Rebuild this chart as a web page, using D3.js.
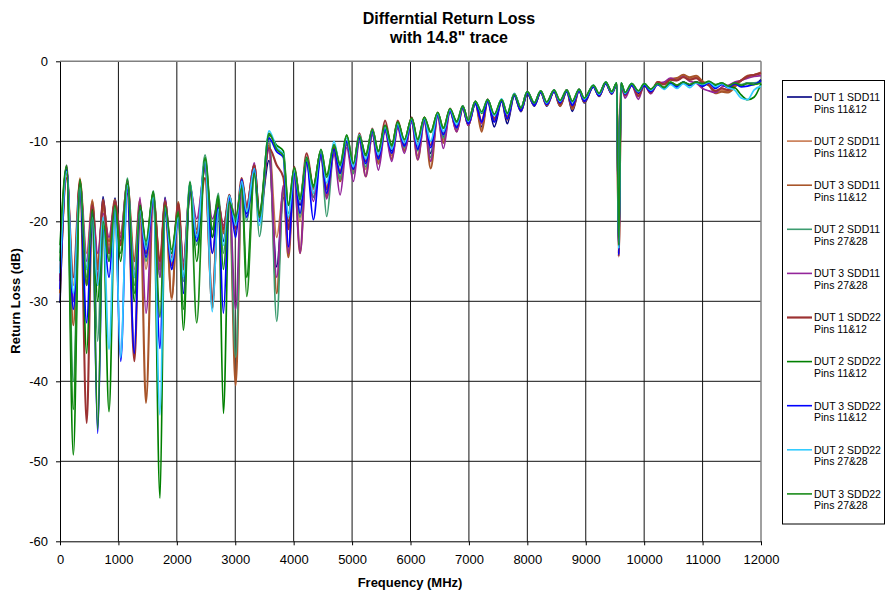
<!DOCTYPE html>
<html>
<head>
<meta charset="utf-8">
<script src="https://cdn.jsdelivr.net/npm/d3@7"></script>
<style>
  body { margin: 0; background: #fff; }
  svg { font-family: "Liberation Sans", Arial, sans-serif; }
</style>
</head>
<body>
<div id="chart"></div>
<script>

var width = 886, height = 592;

var xTicks = [0,1000,2000,3000,4000,5000,6000,7000,8000,9000,10000,11000,12000];
var yTicks = [0,-10,-20,-30,-40,-50,-60];

var seriesNames = ["DUT 1 SDD11","DUT 2 SDD11","DUT 3 SDD11","DUT 2 SDD11","DUT 3 SDD11",
                   "DUT 1 SDD22","DUT 2 SDD22","DUT 3 SDD22","DUT 2 SDD22","DUT 3 SDD22"];
var pinNames = ["Pins 11&12","Pins 11&12","Pins 11&12","Pins 27&28","Pins 27&28",
                "Pins 11&12","Pins 11&12","Pins 11&12","Pins 27&28","Pins 27&28"];
var colors = ["#000080","#c8784e","#a8552a","#3c9c70","#93259a",
              "#9c3232","#008000","#0000ff","#33ccff","#1a8c1a"];

// frequency (MHz) of each sample
var freq = [0,114,228,342,457,553,645,736,839,941,
  1039,1153,1273,1370,1472,1597,1712,1798,1912,2025,
  2111,2226,2340,2483,2608,2711,2797,2899,3007,3111,
  3196,3327,3413,3578,3710,3823,3910,4011,4109,4223,
  4337,4468,4565,4691,4794,4908,5022,5125,5234,5347,
  5450,5565,5679,5781,5895,6021,6124,6237,6346,6466,
  6562,6677,6791,6894,6990,7110,7219,7321,7434,7560,
  7657,7776,7891,7999,8119,8229,8332,8457,8560,8675,
  8771,8885,8976,9130,9228,9342,9445,9531,9565,9605,
  9673,9787,9901,10003,10112,10232,10340,10450,10560,10670,
  10780,10890,11000,11110,11220,11330,11440,11550,11660,11770,
  11880,12000];

var dut1Sdd11p12 = [-30.2,-13.5,-30,-15.2,-26,-17.8,-27,-16.9,-24,-17.1,
  -22.5,-15.5,-27,-17.8,-23.5,-16.5,-26,-17,-26,-18.5,
  -27,-16,-22,-13.3,-22,-18,-22.5,-16.7,-21,-15,
  -19,-13.5,-19.5,-12.4,-25.7,-17,-20,-14.3,-18,-12.6,
  -17,-11.8,-16,-11.5,-14,-10.4,-13.3,-9.8,-12.5,-9,
  -12,-8.6,-11.2,-8.2,-10.5,-7.6,-11,-7.5,-11.5,-6.8,
  -9.5,-6.3,-8.5,-5.9,-8,-5.3,-8.2,-5,-8.2,-5,
  -7.8,-4.3,-6.3,-4,-5.6,-3.9,-5.6,-3.8,-5.6,-3.8,
  -6.25,-3.7,-5.2,-3.2,-4.4,-2.8,-4.1,-2.9,-23.8,-2.9,
  -4.2,-3,-4,-3,-3.9,-2.9,-3.4,-2.8,-3.2,-2.6,
  -3,-2.6,-3.1,-2.7,-3.3,-2.9,-3.3,-2.7,-3.1,-2.7,
  -2.9,-2.3];

var dut2Sdd11p12 = [-26,-13.8,-28,-14.6,-24,-17.3,-25,-18.5,-23,-17.5,
  -21.5,-15,-26,-17.5,-26,-16.8,-25,-17.5,-29.8,-17.8,
  -26,-15.6,-21.5,-12.8,-24,-17.6,-21,-16.9,-20,-14.8,
  -18.5,-13.2,-19.8,-10.2,-22,-16.5,-20.5,-13.8,-20,-12,
  -16,-11.4,-16.5,-11,-14.5,-10,-13.8,-9.4,-13.5,-8.6,
  -12.5,-8,-11.8,-7.8,-11,-7.2,-11.8,-7.1,-12.5,-6.5,
  -9.8,-6,-8.6,-5.6,-8,-5,-8.5,-4.8,-7.4,-4.9,
  -7.2,-4.1,-6.1,-3.9,-5.4,-3.8,-5.5,-3.7,-5.5,-3.6,
  -5.8,-3.6,-5,-3.1,-4.3,-2.7,-4,-2.8,-23.5,-2.8,
  -4.2,-2.9,-4.3,-2.9,-3.9,-2.6,-2.8,-2.2,-2.3,-1.9,
  -2.2,-2,-2.6,-3,-3.8,-3.6,-3.8,-3.1,-2.4,-1.9,
  -1.7,-1.5];

var dut3Sdd11p12 = [-29,-14,-33,-14.8,-28,-17.5,-26,-18,-22.5,-17.3,
  -22,-15.3,-25,-17.3,-42.7,-16.8,-26,-17.8,-29.5,-17.6,
  -26,-15.8,-21,-13,-30.8,-17.5,-21.5,-17,-40.5,-15,
  -18.2,-13,-19.2,-10.5,-29,-16,-24.5,-13.6,-24,-12.2,
  -16.5,-11.5,-17,-11,-15,-10.2,-14,-9.5,-14.4,-8.8,
  -12.8,-8.2,-12.2,-7.8,-11.2,-7.3,-12.3,-7.2,-13.4,-6.6,
  -10.2,-6,-8.8,-5.7,-8,-5.1,-8.8,-4.8,-7.5,-4.9,
  -7.3,-4.1,-6.2,-3.9,-5.5,-3.8,-5.5,-3.7,-5.6,-3.6,
  -6,-3.6,-5.1,-3.1,-4.3,-2.7,-4,-2.8,-24,-2.9,
  -4.3,-2.9,-4.4,-2.9,-4,-2.6,-2.8,-2.2,-2.1,-1.7,
  -2,-1.8,-2.5,-3,-4,-3.8,-3.9,-3.2,-2.4,-1.8,
  -1.7,-1.4];

var dut2Sdd11p28 = [-24,-13.2,-40,-15,-27,-18.5,-35,-19.5,-25,-18.5,
  -23,-14.6,-28,-18,-25,-16.2,-27,-18,-25,-18.5,
  -27.5,-15,-23,-11.7,-21,-16.5,-24,-17.5,-37,-15.5,
  -20,-13.8,-21.9,-9.3,-32.5,-16,-19,-14,-19.5,-12.5,
  -17,-11.8,-19.4,-11.3,-14.8,-10.2,-14,-9.8,-13.2,-9,
  -12.3,-8.5,-11.5,-8.2,-10.8,-7.5,-11.2,-7.4,-12,-6.7,
  -9.6,-6.2,-8.4,-5.8,-7.8,-5.2,-7.5,-4.9,-7.1,-4.9,
  -6.9,-4.2,-6,-3.9,-5.3,-3.8,-5.3,-3.7,-5.1,-3.7,
  -5.4,-3.6,-4.8,-3,-4.1,-2.6,-3.9,-2.7,-23,-2.8,
  -4,-2.9,-3.8,-2.9,-3.6,-2.8,-3.3,-2.7,-3.1,-2.7,
  -2.9,-2.6,-2.8,-2.5,-3,-2.7,-3.1,-2.7,-2.9,-2.7,
  -2.7,-2.5];

var dut3Sdd11p28 = [-27,-13.0,-30,-15,-25,-18,-24,-19,-22,-17.5,
  -22,-15,-27,-17,-31.5,-17.5,-27,-17.2,-24.5,-18.2,
  -25,-15.8,-19.7,-13.5,-19.7,-17.8,-20.5,-17.2,-31,-15,
  -18,-12.7,-19,-11,-27,-15.5,-24,-14.5,-24,-12.8,
  -17.5,-12,-17.2,-11.6,-16.7,-10.8,-15,-10,-14.4,-9.2,
  -13.6,-8.8,-12.5,-8.4,-11.5,-7.6,-12.3,-7.6,-12.5,-6.9,
  -10.9,-6.3,-8.8,-5.9,-8,-5.2,-7.8,-4.9,-7.2,-5,
  -7,-4.2,-6.1,-4,-5.4,-3.9,-5.4,-3.8,-5.3,-3.7,
  -5.6,-3.7,-4.9,-3.1,-4.2,-2.7,-4,-2.8,-23.6,-3,
  -4.6,-3,-4.75,-2.9,-4.05,-2.7,-2.6,-2.1,-2.4,-1.9,
  -2.5,-2.7,-3.4,-3.7,-3.9,-3.2,-3.0,-2.6,-2.4,-2.1,
  -1.9,-1.8];

var dut1Sdd22p12 = [-27.5,-14.6,-27,-15.2,-45.2,-18,-28,-17.3,-24,-17.6,
  -23,-16.5,-37.5,-18.2,-24,-17.5,-25,-17.5,-25.5,-17.8,
  -26,-16.5,-21.5,-14.6,-30,-18,-21,-16.7,-21,-14.6,
  -18.3,-13,-19.5,-10.8,-13,-14.5,-21,-13.2,-17.5,-11.5,
  -15.8,-11.3,-16,-10.8,-13.8,-10,-13.5,-9.0,-12.5,-8.4,
  -11.8,-7.4,-11,-7.4,-10.3,-7.0,-10.5,-7,-10.5,-6.4,
  -9,-5.9,-8.2,-5.6,-7.7,-5,-7.5,-4.75,-7.2,-4.8,
  -7,-4.05,-6,-3.8,-5.3,-3.75,-5.4,-3.6,-5.4,-3.6,
  -5.7,-3.5,-5,-3.1,-4.3,-2.7,-4,-2.8,-24.4,-2.9,
  -4.2,-2.9,-4.3,-2.9,-3.9,-2.6,-2.9,-2.3,-2.4,-2,
  -2.3,-2.1,-2.7,-3,-3.7,-3.4,-3.6,-2.9,-2.4,-1.9,
  -1.7,-1.5];

var dut2Sdd22p12 = [-25,-13.2,-49.2,-14.8,-36.5,-18.5,-30,-20.5,-43.8,-18.5,
  -25,-15.3,-30,-18,-23,-16.3,-54.6,-18.5,-24,-19,
  -33.6,-15.2,-25,-12.2,-22,-16.8,-44,-17.5,-20,-15.5,
  -27,-13.5,-19,-9.2,-10.5,-11.2,-18,-13.4,-17,-12.2,
  -15.5,-11.1,-14.2,-10.5,-12.8,-9.2,-12.8,-9.4,-11.6,-8.6,
  -11.2,-8,-10.4,-7.6,-9.8,-7.1,-9.8,-7,-8.8,-6.4,
  -8.3,-6,-7.5,-5.6,-7.4,-5,-6.5,-4.8,-6.7,-4.8,
  -6.5,-4.1,-5.8,-3.8,-5.2,-3.7,-5.1,-3.6,-4.9,-3.6,
  -5,-3.5,-4.6,-3,-4,-2.6,-3.8,-2.7,-23.2,-2.7,
  -3.9,-2.8,-3.7,-2.8,-3.5,-2.8,-3.3,-2.6,-3,-2.6,
  -3,-2.6,-2.9,-2.6,-3,-2.8,-3.2,-3.3,-4.2,-4.8,
  -4.5,-2.8];

var dut3Sdd22p12 = [-28.5,-13.6,-31,-16,-32.7,-19,-46.5,-21,-27,-18.7,
  -37.5,-16,-36.5,-18.5,-24.5,-17.2,-35.9,-18.8,-26,-19.8,
  -29,-16.3,-22.5,-12.8,-24,-18.3,-31.5,-17,-22,-14.8,
  -19.5,-13.4,-20,-9.6,-11.3,-12,-23.2,-14,-19,-12.6,
  -19.8,-11.6,-16.5,-11,-14,-10,-13.5,-9.6,-12.8,-8.8,
  -12.2,-8.5,-11.5,-8,-10.6,-7.4,-11,-7.3,-10.8,-6.7,
  -9.2,-6.2,-8.3,-5.8,-7.8,-5.3,-7.6,-5,-7.6,-5,
  -7.2,-4.3,-6.2,-4,-5.5,-3.9,-5.4,-3.8,-5.2,-3.8,
  -5.5,-3.7,-5,-3.2,-4.3,-2.8,-4,-2.9,-24.2,-2.8,
  -4.1,-3,-3.9,-3,-3.8,-2.9,-3.4,-2.8,-3.2,-2.6,
  -3,-2.6,-3.1,-2.7,-3.4,-2.9,-3.3,-2.8,-3.2,-3.1,
  -2.9,-2.5];

var dut2Sdd22p28 = [-26.5,-13.8,-29,-15.8,-26,-19.5,-28,-19.5,-36,-18.2,
  -37,-15.5,-27,-18.7,-23.5,-17,-44.2,-18.3,-25,-19.5,
  -27,-15.3,-22,-12.5,-31.3,-18.5,-23,-16.8,-20.5,-15,
  -18.8,-13.4,-20.5,-8.7,-10.8,-11.6,-19.5,-13.6,-17.5,-12,
  -16.5,-11.1,-15.2,-10,-13.2,-9.6,-13.2,-9.2,-12.2,-8.5,
  -11.7,-8.2,-11,-7.8,-10.2,-7.2,-10.5,-7.1,-10,-6.5,
  -8.8,-6,-7.9,-5.6,-7.5,-5,-6.4,-4.8,-6.8,-4.7,
  -6.6,-4,-5.8,-3.8,-5.2,-3.7,-5.2,-3.6,-5,-3.6,
  -5.1,-3.5,-4.7,-3,-4.1,-2.6,-3.9,-2.7,-23.4,-2.7,
  -4,-2.8,-3.8,-2.8,-3.6,-2.8,-3.5,-2.9,-3.4,-2.8,
  -3.3,-2.7,-2.9,-2.6,-3.2,-2.8,-3.3,-3.6,-4.6,-4.8,
  -3.6,-3.1];

var dut3Sdd22p28 = [-23,-13.0,-43.5,-15,-28,-18.8,-46,-20,-25,-18,
  -24,-14.8,-29,-18.2,-22.5,-16.4,-32,-18,-23.5,-18.8,
  -31,-15.2,-32.7,-12,-21,-17,-26,-17.6,-19.5,-15.8,
  -29.4,-14,-19.5,-9.0,-11,-11.8,-18,-13.3,-17.3,-12,
  -15.7,-11,-14.5,-10.4,-13,-9.3,-12.8,-9.3,-11.8,-8.5,
  -11.3,-8,-10.6,-7.6,-9.8,-7.1,-9.8,-7,-8.9,-6.4,
  -8.4,-5.9,-7.6,-5.6,-7.4,-5,-6.3,-4.8,-6.6,-4.8,
  -6.5,-4.1,-5.8,-3.8,-5.2,-3.7,-5.1,-3.6,-4.9,-3.6,
  -5,-3.5,-4.6,-3,-4,-2.6,-3.8,-2.7,-23,-2.7,
  -3.9,-2.8,-3.7,-2.8,-3.5,-2.8,-3.3,-2.6,-3.0,-2.6,
  -2.9,-2.6,-2.8,-2.5,-2.9,-2.7,-3.1,-2.7,-3.0,-2.8,
  -2.9,-2.7];

var seriesValues = [dut1Sdd11p12, dut2Sdd11p12, dut3Sdd11p12, dut2Sdd11p28, dut3Sdd11p28,
                    dut1Sdd22p12, dut2Sdd22p12, dut3Sdd22p12, dut2Sdd22p28, dut3Sdd22p28];

// layout

var plotLeft = 60, plotRight = 761, plotTop = 61.3, plotBottom = 541.3;

var svg = d3.select("#chart").append("svg")
    .attr("width", width)
    .attr("height", height);

var x = d3.scaleLinear().domain([0, 12000]).range([plotLeft, plotRight]);
var y = d3.scaleLinear().domain([-60, 0]).range([plotBottom, plotTop]);

// grid
svg.append("g").selectAll("line.hgrid")
    .data(yTicks.filter(function (d) { return d != 0 && d != -60; }))
    .enter().append("line")
    .attr("x1", plotLeft).attr("x2", plotRight)
    .attr("y1", function (d) { return y(d); })
    .attr("y2", function (d) { return y(d); })
    .style("stroke", "#111").style("stroke-width", 1);

svg.append("g").selectAll("line.vgrid")
    .data(xTicks.filter(function (d) { return d != 0 && d != 12000; }))
    .enter().append("line")
    .attr("x1", function (d) { return x(d); })
    .attr("x2", function (d) { return x(d); })
    .attr("y1", plotTop).attr("y2", plotBottom)
    .style("stroke", "#111").style("stroke-width", 1);

// frame: top and right in gray
svg.append("line").attr("x1", plotLeft).attr("x2", plotRight).attr("y1", plotTop).attr("y2", plotTop)
    .style("stroke", "#808080").style("stroke-width", 1.5);
svg.append("line").attr("x1", plotRight).attr("x2", plotRight).attr("y1", plotTop).attr("y2", plotBottom)
    .style("stroke", "#808080").style("stroke-width", 1.5);

// traces
var line = d3.line()
    .x(function (d) { return x(d[0]); })
    .y(function (d) { return y(d[1]); })
    .curve(d3.curveMonotoneX);

seriesValues.forEach(function (vals, i) {
    var pts = freq.map(function (f, k) { return [f, vals[k]]; });
    svg.append("path")
        .attr("d", line(pts))
        .style("fill", "none")
        .style("stroke", colors[i])
        .style("stroke-width", (i == 5 || i == 2) ? 2.1 : 1.7)
        .style("stroke-linejoin", "round");
});

// axes (plain hyphen minus like the original)
function plainNum(d) { return String(d); }

var yAxis = d3.axisLeft(y).tickValues(yTicks).tickSize(4).tickSizeOuter(0).tickPadding(8).tickFormat(plainNum);
var gy = svg.append("g").attr("transform", "translate(" + plotLeft + ",0)").call(yAxis);
gy.selectAll("text").style("font-size", "13px").style("fill", "#000");
gy.selectAll("line, path").style("stroke", "#000");

var xAxis = d3.axisBottom(x).tickValues(xTicks).tickSize(4).tickSizeOuter(0).tickPadding(9).tickFormat(plainNum);
var gx = svg.append("g").attr("transform", "translate(0," + plotBottom + ")").call(xAxis);
gx.selectAll("text").style("font-size", "13px").style("fill", "#000");
gx.selectAll("line, path").style("stroke", "#000");

// titles
svg.append("text").attr("x", 449).attr("y", 24).attr("text-anchor", "middle")
    .style("font-size", "16px").style("font-weight", "bold").text("Differntial Return Loss");
svg.append("text").attr("x", 449).attr("y", 43).attr("text-anchor", "middle")
    .style("font-size", "16px").style("font-weight", "bold").text("with 14.8\" trace");

svg.append("text").attr("x", 410).attr("y", 587).attr("text-anchor", "middle")
    .style("font-size", "13px").style("font-weight", "bold").text("Frequency (MHz)");

svg.append("text").attr("transform", "translate(20,301) rotate(-90)").attr("text-anchor", "middle")
    .style("font-size", "13px").style("font-weight", "bold").text("Return Loss (dB)");

// legend
var legend = svg.append("g");
legend.append("rect")
    .attr("x", 782.5).attr("y", 80.5).attr("width", 102).attr("height", 443.5)
    .style("fill", "#fff").style("stroke", "#000").style("stroke-width", 1);

var entry = legend.selectAll("g.entry")
    .data(seriesNames)
    .enter().append("g")
    .attr("transform", function (d, i) { return "translate(0," + (97 + i * 44.1) + ")"; });

entry.append("line")
    .attr("x1", 787).attr("x2", 812).attr("y1", 0).attr("y2", 0)
    .style("stroke", function (d, i) { return colors[i]; })
    .style("stroke-width", function (d, i) { return i == 5 ? 2.2 : 1.6; });

entry.append("text")
    .attr("x", 814).attr("y", 3.8)
    .style("font-size", "10.5px")
    .text(function (d) { return d; });

entry.append("text")
    .attr("x", 814).attr("y", 15.6)
    .style("font-size", "10.5px")
    .text(function (d, i) { return pinNames[i]; });
</script>
</body>
</html>
